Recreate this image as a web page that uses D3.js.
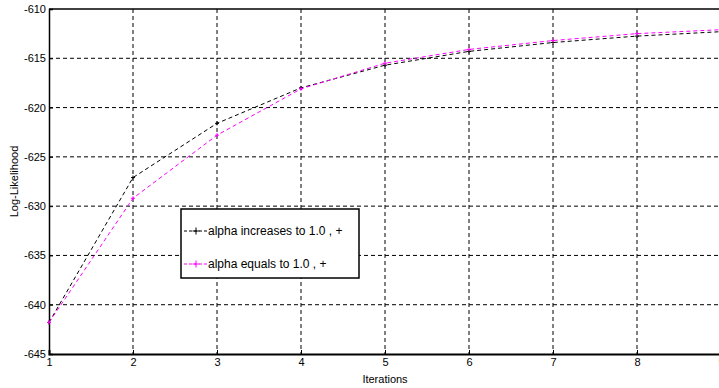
<!DOCTYPE html>
<html>
<head>
<meta charset="utf-8">
<script src="https://cdn.jsdelivr.net/npm/d3@7"></script>
<style>
  body { margin: 0; background: #fff; }
  svg { display: block; font-family: "Liberation Sans", Arial, sans-serif; }
</style>
</head>
<body>
<div id="chart"></div>
<script>
// data
const iterations = [1, 2, 3, 4, 5, 6, 7, 8, 9];
const alphaIncreases = [-641.8, -627.1, -621.6, -618.0, -615.7, -614.3, -613.4, -612.75, -612.3];
const alphaEquals = [-641.8, -629.2, -622.8, -618.1, -615.5, -614.1, -613.2, -612.5, -612.1];
const xTicks = [1, 2, 3, 4, 5, 6, 7, 8, 9];
const yTicks = [-610, -615, -620, -625, -630, -635, -640, -645];
const legendLabels = ["alpha increases to 1.0 , +", "alpha equals to 1.0 , +"];

const W = 719, H = 388;
const margin = { top: 9, right: -2, bottom: 34, left: 49 };
const width = W - margin.left - margin.right,
  height = H - margin.top - margin.bottom;

const svg = d3.select("#chart").append("svg")
  .attr("width", W).attr("height", H);
const g = svg.append("g")
  .attr("transform", "translate(" + margin.left + "," + margin.top + ")");

const x = d3.scaleLinear().domain([1, 9]).range([0, width]);
const y = d3.scaleLinear().domain([-645, -610]).range([height, 0]);

// grid
g.append("g").selectAll("line").data(xTicks.slice(1, -1)).join("line")
  .attr("x1", d => x(d)).attr("x2", d => x(d))
  .attr("y1", 0).attr("y2", height)
  .attr("stroke", "#000").attr("stroke-width", 1).attr("stroke-dasharray", "4,3");
g.append("g").selectAll("line").data(yTicks.slice(1, -1)).join("line")
  .attr("x1", 0).attr("x2", width)
  .attr("y1", d => y(d)).attr("y2", d => y(d))
  .attr("stroke", "#000").attr("stroke-width", 1).attr("stroke-dasharray", "4,3");

// axes
const xAxis = g.append("g")
  .attr("transform", "translate(0," + height + ")")
  .call(d3.axisBottom(x).tickValues(xTicks).tickSize(-4).tickPadding(6).tickFormat(d3.format("d")));
const yAxis = g.append("g")
  .call(d3.axisLeft(y).tickValues(yTicks).tickSize(-4).tickPadding(3).tickFormat(d => d));
xAxis.select(".domain").attr("stroke-width", 2);
yAxis.select(".domain").attr("stroke-width", 1.5);
[xAxis, yAxis].forEach(a => a.selectAll("text")
  .attr("font-size", 11).attr("font-family", "Liberation Sans, Arial, sans-serif")
  .attr("fill", "#000"));
xAxis.selectAll(".tick text").attr("dy", "0.55em");

// top border
g.append("line").attr("x1", 0).attr("x2", width).attr("y1", 0).attr("y2", 0)
  .attr("stroke", "#000").attr("stroke-width", 1.5);

// series
const series = [
  { values: alphaIncreases, color: "#000" },
  { values: alphaEquals, color: "#ff00ff" }
];
const line = d3.line().x((d, i) => x(iterations[i])).y(d => y(d));
series.forEach(s => {
  g.append("path").datum(s.values)
    .attr("d", line).attr("fill", "none")
    .attr("stroke", s.color).attr("stroke-width", 1).attr("stroke-dasharray", "4,3");
  g.append("g").selectAll("path").data(s.values).join("path")
    .attr("d", (d, i) => {
      const px = x(iterations[i]), py = y(d);
      return `M${px - 2},${py}H${px + 2}M${px},${py - 2}V${py + 2}`;
    })
    .attr("stroke", s.color).attr("stroke-width", 1);
});

// axis labels
svg.append("text")
  .attr("x", margin.left + x(5)).attr("y", 383)
  .attr("text-anchor", "middle").attr("font-size", 11)
  .text("Iterations");
svg.append("text")
  .attr("transform", "translate(18," + (margin.top + height / 2) + ") rotate(-90)")
  .attr("text-anchor", "middle").attr("font-size", 11)
  .text("Log-Likelihood");

// legend
const legend = svg.append("g").attr("transform", "translate(181,209)");
legend.append("rect").attr("width", 178).attr("height", 69)
  .attr("fill", "#fff").attr("stroke", "#000").attr("stroke-width", 1.5);
legendLabels.forEach((lab, i) => {
  const ly = 22 + i * 33;
  const c = series[i].color;
  legend.append("line").attr("x1", 3).attr("x2", 26).attr("y1", ly).attr("y2", ly)
    .attr("stroke", c).attr("stroke-dasharray", "3,2");
  legend.append("path").attr("d", `M${11.5},${ly}H${18.5}M15,${ly - 3.5}V${ly + 3.5}`)
    .attr("stroke", c);
  legend.append("text").attr("x", 27).attr("y", ly).attr("dy", "0.35em")
    .attr("font-size", 12).text(lab);
});
</script>
</body>
</html>
